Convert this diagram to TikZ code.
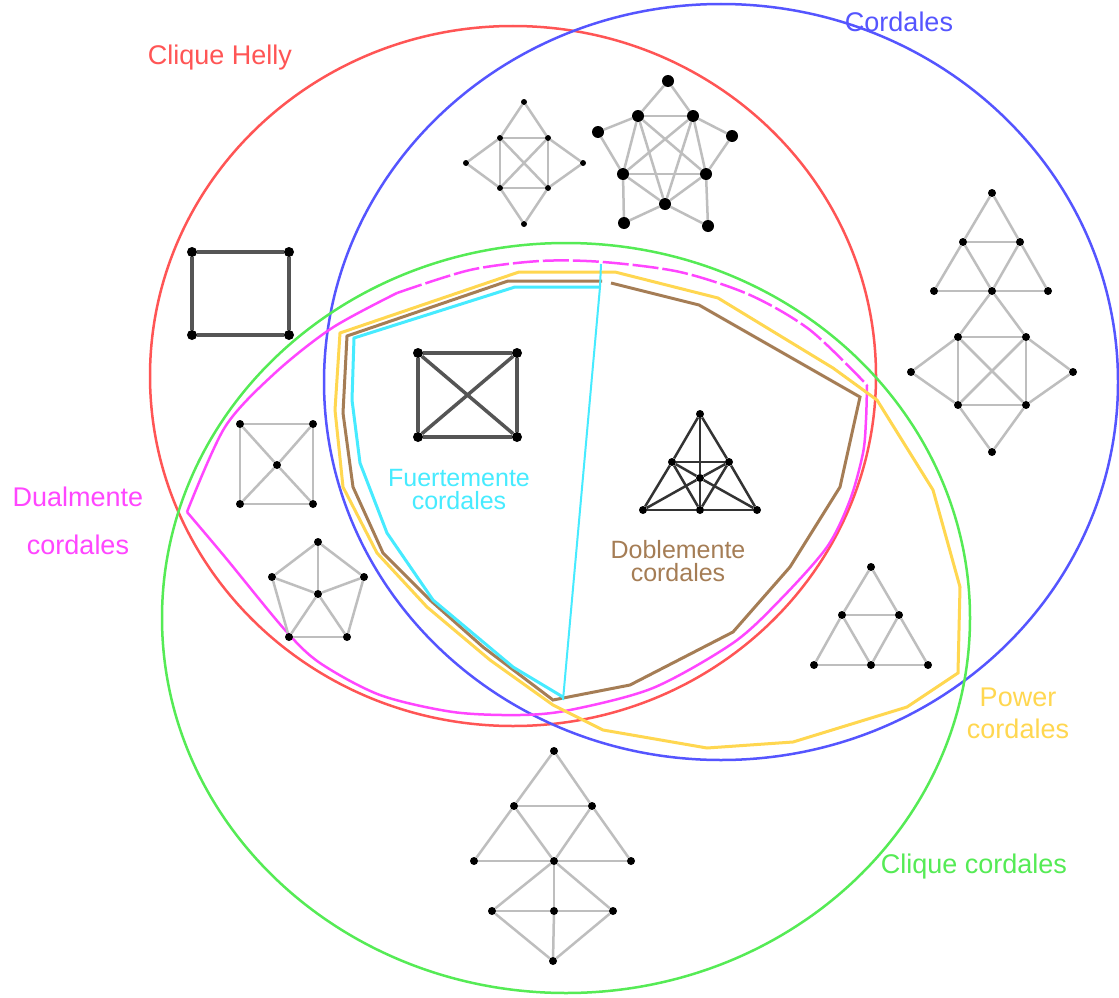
\documentclass[tikz,border=0pt]{standalone}
\usepackage{fontspec}
\setmainfont{Liberation Sans}
\definecolor{cred}{RGB}{255,85,85}
\definecolor{cblue}{RGB}{85,85,255}
\definecolor{cgreen}{RGB}{85,235,85}
\definecolor{cmag}{RGB}{255,70,255}
\definecolor{ccyan}{RGB}{70,235,255}
\definecolor{cbrown}{RGB}{165,125,85}
\definecolor{cyel}{RGB}{255,215,80}
\definecolor{elight}{RGB}{190,190,190}
\definecolor{edark}{RGB}{85,85,85}
\tikzset{
 setline/.style={line width=2.5pt},
 polyline/.style={line width=3pt, line join=miter},
 v/.style={circle, fill=black, inner sep=0pt, minimum size=8pt},
 vsm/.style={v, minimum size=6pt},
 vbig/.style={v, minimum size=12pt},
 vmid/.style={v, minimum size=10pt},
 le/.style={draw=elight, line width=2.5pt},
 de/.style={draw=edark, line width=3.5pt},
 he/.style={draw=black!80, line width=2.5pt},
 lab/.style={font=\fontsize{27}{32}\selectfont, align=center, inner sep=0pt},
 labs/.style={font=\fontsize{25}{23}\selectfont, align=center, inner sep=0pt},
}
\begin{document}
\begin{tikzpicture}[x=1pt,y=-1pt]
\useasboundingbox (0,0) rectangle (1119,998);
\fill[white] (0,0) rectangle (1119,998);

% sets
\draw[cred,setline] (513,376) ellipse [x radius=363pt, y radius=350pt];
\draw[cblue,setline] (721,382) ellipse [x radius=397pt, y radius=378pt];
\draw[cgreen,setline] (566,618) ellipse [x radius=404pt, y radius=375pt];

% dualmente cordales
\draw[cmag,setline] plot[smooth] coordinates {(187,512) (225,427) (275,373) (332,328) (397,293)};
\draw[cmag,setline,dash pattern=on 26pt off 4pt] plot[smooth] coordinates {(397,293) (470,270) (540,261) (603,262) (680,272) (750,295) (810,330) (867,385)};
\draw[cmag,setline] plot[smooth] coordinates {(867,385) (866,420) (863,453) (850,500) (827,547) (780,600) (733,643) (653,688) (570,710) (520,715) (453,712) (380,695) (320,663) (285,630) (225,557) (187,512)};

% power cordales
\draw[cyel,polyline] (340,333) -- (519,272) -- (615,272) -- (718,298) -- (833,368) -- (877,400) -- (933,490) -- (960,587) -- (958,673) -- (907,707) -- (793,742) -- (707,748) -- (603,730) -- (553,705) -- (490,660) -- (427,607) -- (377,553) -- (343,487) -- (335,410) -- cycle;

% doblemente cordales
\draw[cbrown,polyline] (611,283) -- (699,305) -- (860,397) -- (840,487) -- (790,567) -- (733,632) -- (630,685) -- (553,700) -- (483,647) -- (430,600) -- (383,553) -- (353,487) -- (343,413) -- (347,336) -- (508,281) -- (602,281);

% fuertemente cordales
\draw[ccyan,polyline] (600,287) -- (515,287) -- (354,338) -- (352,400) -- (360,463) -- (387,533) -- (433,600) -- (513,667) -- (563,697);
\draw[ccyan,line width=2pt] (601,264) -- (600,287) -- (563,700);

% labels
\node[lab, text=cred] (lhelly) at (220,58) {Clique Helly};
\node[lab, text=cblue] (lcord) at (899,22) {Cordales};
\node[lab, text=cmag, font=\fontsize{27}{48}\selectfont] (ldual) at (78,521) {Dualmente\\cordales};
\node[labs, text=ccyan] (lfuer) at (459,490) {Fuertemente\\cordales};
\node[labs, text=cbrown] (ldob) at (678,561) {Doblemente\\cordales};
\node[lab, text=cyel] (lpow) at (1018,713) {Power\\cordales};
\node[lab, text=cgreen] (lcc) at (974,867) {Clique cordales};

% graph A: C4 (dark)
\node[vmid] (a1) at (192,252) {};
\node[vmid] (a2) at (289,252) {};
\node[vmid] (a3) at (289,335) {};
\node[vmid] (a4) at (192,335) {};
\foreach \p/\q in {a1/a2,a2/a3,a3/a4,a4/a1} \draw[de] (\p) -- (\q);

% graph B: W4
\node[v] (b1) at (240,424) {};
\node[v] (b2) at (313,424) {};
\node[v] (b3) at (313,504) {};
\node[v] (b4) at (240,504) {};
\node[v] (b0) at (277,465) {};
\foreach \p/\q in {b1/b2,b2/b3,b3/b4,b4/b1,b0/b1,b0/b2,b0/b3,b0/b4} \draw[le] (\p) -- (\q);

% graph C: W5
\node[v] (c1) at (318,542) {};
\node[v] (c2) at (364,577) {};
\node[v] (c3) at (347,637) {};
\node[v] (c4) at (289,637) {};
\node[v] (c5) at (272,577) {};
\node[v] (c0) at (318,594) {};
\foreach \p/\q in {c1/c2,c2/c3,c3/c4,c4/c5,c5/c1,c0/c1,c0/c2,c0/c3,c0/c4,c0/c5} \draw[le] (\p) -- (\q);

% graph D
\node[vsm] (d1) at (524,102) {};
\node[vsm] (d2) at (466,163) {};
\node[vsm] (d3) at (583,163) {};
\node[vsm] (d4) at (500,138) {};
\node[vsm] (d5) at (548,138) {};
\node[vsm] (d6) at (500,188) {};
\node[vsm] (d7) at (548,188) {};
\node[vsm] (d8) at (524,224) {};
\foreach \p/\q in {d1/d4,d1/d5,d2/d4,d2/d6,d3/d5,d3/d7,d8/d6,d8/d7,d4/d5,d6/d7,d4/d6,d5/d7,d4/d7,d5/d6} \draw[le] (\p) -- (\q);

% graph E
\node[vbig] (e1) at (668,81) {};
\node[vbig] (e2) at (638,116) {};
\node[vbig] (e3) at (693,116) {};
\node[vbig] (e4) at (598,132) {};
\node[vbig] (e5) at (732,136) {};
\node[vbig] (e6) at (623,174) {};
\node[vbig] (e7) at (706,174) {};
\node[vbig] (e8) at (665,204) {};
\node[vbig] (e9) at (624,223) {};
\node[vbig] (e10) at (708,226) {};
\foreach \p/\q in {e1/e2,e1/e3,e2/e3,e2/e4,e3/e5,e4/e6,e5/e7,e2/e6,e3/e7,e2/e7,e3/e6,e2/e8,e3/e8,e6/e7,e6/e8,e7/e8,e6/e9,e8/e9,e8/e10,e7/e10} \draw[le] (\p) -- (\q);

% graph F
\node[v] (f1) at (992,193) {};
\node[v] (f2) at (963,242) {};
\node[v] (f3) at (1020,242) {};
\node[v] (f4) at (934,291) {};
\node[v] (f5) at (992,291) {};
\node[v] (f6) at (1048,291) {};
\node[v] (f7) at (958,337) {};
\node[v] (f8) at (1026,337) {};
\node[v] (f9) at (911,372) {};
\node[v] (f10) at (1073,372) {};
\node[v] (f11) at (958,405) {};
\node[v] (f12) at (1026,405) {};
\node[v] (f13) at (992,452) {};
\foreach \p/\q in {f1/f2,f1/f3,f2/f3,f2/f4,f2/f5,f3/f5,f3/f6,f4/f5,f5/f6,f5/f7,f5/f8,f7/f8,f7/f11,f8/f12,f11/f12,f7/f12,f8/f11,f9/f7,f9/f11,f10/f8,f10/f12,f13/f11,f13/f12} \draw[le] (\p) -- (\q);

% graph G: K4 (dark)
\node[vmid] (g1) at (418,353) {};
\node[vmid] (g2) at (517,353) {};
\node[vmid] (g3) at (517,437) {};
\node[vmid] (g4) at (418,437) {};
\foreach \p/\q in {g1/g2,g2/g3,g3/g4,g4/g1,g1/g3,g2/g4} \draw[de] (\p) -- (\q);

% graph H (dark)
\node[v] (h1) at (700,414) {};
\node[v] (h2) at (672,462) {};
\node[v] (h3) at (729,462) {};
\node[v] (h0) at (700,478) {};
\node[v] (h4) at (643,510) {};
\node[v] (h5) at (700,510) {};
\node[v] (h6) at (757,510) {};
\foreach \p/\q in {h1/h2,h2/h4,h1/h3,h3/h6,h4/h5,h5/h6,h1/h0,h0/h5,h2/h3,h2/h0,h3/h0,h2/h5,h3/h5,h4/h0,h6/h0} \draw[he] (\p) -- (\q);

% graph I
\node[v] (i1) at (871,567) {};
\node[v] (i2) at (842,615) {};
\node[v] (i3) at (899,615) {};
\node[v] (i4) at (814,665) {};
\node[v] (i5) at (871,665) {};
\node[v] (i6) at (928,665) {};
\foreach \p/\q in {i1/i2,i1/i3,i2/i3,i2/i4,i2/i5,i3/i5,i3/i6,i4/i5,i5/i6} \draw[le] (\p) -- (\q);

% graph J
\node[v] (j1) at (554,751) {};
\node[v] (j2) at (514,806) {};
\node[v] (j3) at (592,806) {};
\node[v] (j4) at (474,861) {};
\node[v] (j5) at (554,861) {};
\node[v] (j6) at (631,861) {};
\node[v] (j7) at (492,911) {};
\node[v] (j8) at (554,911) {};
\node[v] (j9) at (613,911) {};
\node[v] (j10) at (553,961) {};
\foreach \p/\q in {j1/j2,j1/j3,j2/j3,j2/j4,j2/j5,j3/j5,j3/j6,j4/j5,j5/j6,j5/j7,j5/j9,j5/j8,j7/j8,j8/j9,j7/j10,j9/j10,j8/j10} \draw[le] (\p) -- (\q);
\end{tikzpicture}
\end{document}
